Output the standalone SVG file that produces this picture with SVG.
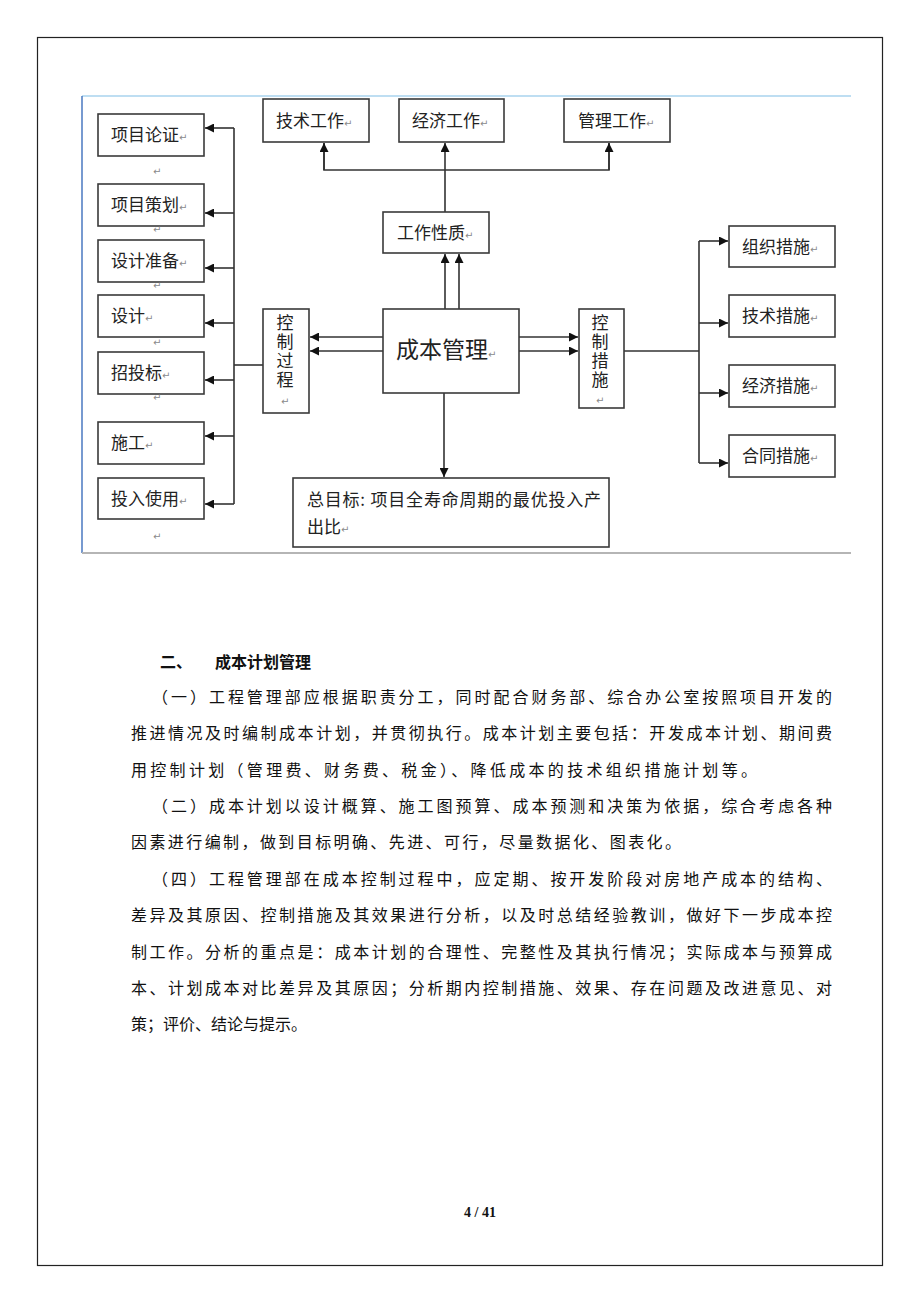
<svg xmlns="http://www.w3.org/2000/svg" width="920" height="1302" viewBox="0 0 920 1302">
<style>
.box{fill:#fff;stroke:#3a3a3a;stroke-width:1.6}
.lbl{font-family:"Noto Sans CJK SC","Noto Sans",sans-serif;font-size:17px;fill:#222}
.big{font-size:23px}
.vt{writing-mode:vertical-rl;letter-spacing:2px}
.pm{font-family:"DejaVu Sans",sans-serif;font-size:10px;fill:#8a8a8a}
.ln{fill:none;stroke:#333;stroke-width:1.6}
.txt{font-family:"Noto Sans CJK SC","Noto Sans",sans-serif;font-size:16px;fill:#111}
.hd{font-family:"Noto Sans CJK SC","Noto Sans",sans-serif;font-size:16px;font-weight:bold;fill:#111}
</style>
<defs>
<marker id="ah" viewBox="0 0 10 10" refX="10" refY="5" markerWidth="9" markerHeight="9" markerUnits="userSpaceOnUse" orient="auto">
<path d="M0,0 L10,5 L0,10 z" fill="#111"/>
</marker>
</defs>
<rect width="920" height="1302" fill="#fff"/>
<rect x="37.5" y="37.5" width="845" height="1228" fill="none" stroke="#222" stroke-width="1.2"/>
<g id="frame">
<line x1="82" y1="96" x2="851" y2="96" stroke="#a9d3ee" stroke-width="1.5"/>
<line x1="82" y1="96" x2="82" y2="553" stroke="#4a78c0" stroke-width="1.5"/>
<line x1="82" y1="553" x2="851" y2="553" stroke="#b5b5b5" stroke-width="2"/>
</g>
<g id="connectors">
<line class="ln" x1="234" y1="128" x2="234" y2="504"/>
<line class="ln" x1="234" y1="128" x2="205" y2="128" marker-end="url(#ah)"/>
<line class="ln" x1="234" y1="213" x2="205" y2="213" marker-end="url(#ah)"/>
<line class="ln" x1="234" y1="268" x2="205" y2="268" marker-end="url(#ah)"/>
<line class="ln" x1="234" y1="323" x2="205" y2="323" marker-end="url(#ah)"/>
<line class="ln" x1="234" y1="380" x2="205" y2="380" marker-end="url(#ah)"/>
<line class="ln" x1="234" y1="436" x2="205" y2="436" marker-end="url(#ah)"/>
<line class="ln" x1="234" y1="504" x2="205" y2="504" marker-end="url(#ah)"/>
<line class="ln" x1="234" y1="365" x2="263" y2="365"/>
<line class="ln" x1="383" y1="337" x2="310" y2="337" marker-end="url(#ah)"/>
<line class="ln" x1="383" y1="351" x2="310" y2="351" marker-end="url(#ah)"/>
<line class="ln" x1="519" y1="337" x2="578" y2="337" marker-end="url(#ah)"/>
<line class="ln" x1="519" y1="351" x2="578" y2="351" marker-end="url(#ah)"/>
<line class="ln" x1="624" y1="351" x2="699" y2="351"/>
<line class="ln" x1="699" y1="241" x2="699" y2="463"/>
<line class="ln" x1="699" y1="241" x2="728" y2="241" marker-end="url(#ah)"/>
<line class="ln" x1="699" y1="323" x2="728" y2="323" marker-end="url(#ah)"/>
<line class="ln" x1="699" y1="393" x2="728" y2="393" marker-end="url(#ah)"/>
<line class="ln" x1="699" y1="463" x2="728" y2="463" marker-end="url(#ah)"/>
<line class="ln" x1="445" y1="309" x2="445" y2="254" marker-end="url(#ah)"/>
<line class="ln" x1="459" y1="309" x2="459" y2="254" marker-end="url(#ah)"/>
<line class="ln" x1="445" y1="212" x2="445" y2="143" marker-end="url(#ah)"/>
<polyline class="ln" points="324,143 324,170 609,170 609,143"/>
<line class="ln" x1="324" y1="170" x2="324" y2="143" marker-end="url(#ah)"/>
<line class="ln" x1="609" y1="170" x2="609" y2="143" marker-end="url(#ah)"/>
<line class="ln" x1="444" y1="393" x2="444" y2="477" marker-end="url(#ah)"/>
</g>
<g id="n-xmlz"><rect class="box" x="98" y="114" width="106" height="42"/><text class="lbl" x="111" y="141">项目论证<tspan class="pm">↵</tspan></text></g>
<g id="n-xmch"><rect class="box" x="98" y="184" width="106" height="42"/><text class="lbl" x="111" y="211">项目策划<tspan class="pm">↵</tspan></text></g>
<g id="n-sjzb"><rect class="box" x="98" y="240" width="106" height="42"/><text class="lbl" x="111" y="267">设计准备<tspan class="pm">↵</tspan></text></g>
<g id="n-sj"><rect class="box" x="98" y="295" width="106" height="42"/><text class="lbl" x="111" y="322">设计<tspan class="pm">↵</tspan></text></g>
<g id="n-ztb"><rect class="box" x="98" y="352" width="106" height="42"/><text class="lbl" x="111" y="379">招投标<tspan class="pm">↵</tspan></text></g>
<g id="n-sg"><rect class="box" x="98" y="422" width="106" height="42"/><text class="lbl" x="111" y="449">施工<tspan class="pm">↵</tspan></text></g>
<g id="n-trsy"><rect class="box" x="98" y="478" width="106" height="41"/><text class="lbl" x="111" y="505">投入使用<tspan class="pm">↵</tspan></text></g>
<g id="pmarks">
<text class="pm" x="153" y="175">↵</text>
<text class="pm" x="153" y="233">↵</text>
<text class="pm" x="153" y="289">↵</text>
<text class="pm" x="153" y="346">↵</text>
<text class="pm" x="153" y="401">↵</text>
<text class="pm" x="153" y="540">↵</text>
</g>
<g id="n-jsgz"><rect class="box" x="263" y="99" width="106" height="43"/><text class="lbl" x="276" y="127">技术工作<tspan class="pm">↵</tspan></text></g>
<g id="n-jjgz"><rect class="box" x="399" y="99" width="105" height="43"/><text class="lbl" x="412" y="127">经济工作<tspan class="pm">↵</tspan></text></g>
<g id="n-glgz"><rect class="box" x="564" y="99" width="106" height="43"/><text class="lbl" x="578" y="127">管理工作<tspan class="pm">↵</tspan></text></g>
<g id="n-gzxz"><rect class="box" x="383" y="212" width="106" height="41"/><text class="lbl" x="397" y="239">工作性质<tspan class="pm">↵</tspan></text></g>
<g id="n-cbgl"><rect class="box" x="383" y="309" width="136" height="84"/><text class="lbl big" x="396" y="358">成本管理<tspan class="pm">↵</tspan></text></g>
<g id="n-kzgc"><rect class="box" x="263" y="309" width="46" height="104"/>
<text class="lbl vt" x="285" y="314">控制过程</text><text class="pm" x="281" y="405">↵</text></g>
<g id="n-kzcs"><rect class="box" x="579" y="309" width="45" height="99"/>
<text class="lbl vt" x="600" y="314">控制措施</text><text class="pm" x="596" y="404">↵</text></g>
<g id="n-zzcs"><rect class="box" x="729" y="226" width="106" height="41"/><text class="lbl" x="742" y="253">组织措施<tspan class="pm">↵</tspan></text></g>
<g id="n-jscs"><rect class="box" x="729" y="295" width="106" height="42"/><text class="lbl" x="742" y="322">技术措施<tspan class="pm">↵</tspan></text></g>
<g id="n-jjcs"><rect class="box" x="729" y="365" width="106" height="42"/><text class="lbl" x="742" y="392">经济措施<tspan class="pm">↵</tspan></text></g>
<g id="n-htcs"><rect class="box" x="729" y="435" width="106" height="42"/><text class="lbl" x="742" y="462">合同措施<tspan class="pm">↵</tspan></text></g>
<g id="n-zmb"><rect class="box" x="293" y="478" width="316" height="69"/>
<text class="lbl" x="307" y="506" textLength="294" lengthAdjust="spacing">总目标: 项目全寿命周期的最优投入产</text>
<text class="lbl" x="307" y="533">出比<tspan class="pm">↵</tspan></text></g>
<g id="body">
<text class="hd" x="160" y="668">二、</text>
<text class="hd" x="215" y="668">成本计划管理</text>
<text class="txt" x="152" y="703" textLength="680" lengthAdjust="spacing">（一）工程管理部应根据职责分工，同时配合财务部、综合办公室按照项目开发的</text>
<text class="txt" x="131" y="739" textLength="701" lengthAdjust="spacing">推进情况及时编制成本计划，并贯彻执行。成本计划主要包括：开发成本计划、期间费</text>
<text class="txt" x="131" y="776" textLength="626" lengthAdjust="spacing">用控制计划（管理费、财务费、税金）、降低成本的技术组织措施计划等。</text>
<text class="txt" x="152" y="812" textLength="680" lengthAdjust="spacing">（二）成本计划以设计概算、施工图预算、成本预测和决策为依据，综合考虑各种</text>
<text class="txt" x="131" y="848" textLength="550" lengthAdjust="spacing">因素进行编制，做到目标明确、先进、可行，尽量数据化、图表化。</text>
<text class="txt" x="152" y="885" textLength="680" lengthAdjust="spacing">（四）工程管理部在成本控制过程中，应定期、按开发阶段对房地产成本的结构、</text>
<text class="txt" x="131" y="921" textLength="701" lengthAdjust="spacing">差异及其原因、控制措施及其效果进行分析，以及时总结经验教训，做好下一步成本控</text>
<text class="txt" x="131" y="958" textLength="701" lengthAdjust="spacing">制工作。分析的重点是：成本计划的合理性、完整性及其执行情况；实际成本与预算成</text>
<text class="txt" x="131" y="994" textLength="701" lengthAdjust="spacing">本、计划成本对比差异及其原因；分析期内控制措施、效果、存在问题及改进意见、对</text>
<text class="txt" x="131" y="1030">策；评价、结论与提示。</text>
</g>
<text x="480" y="1217" text-anchor="middle" font-family="Liberation Serif, serif" font-size="14" font-weight="bold" fill="#111">4 / 41</text>
</svg>
